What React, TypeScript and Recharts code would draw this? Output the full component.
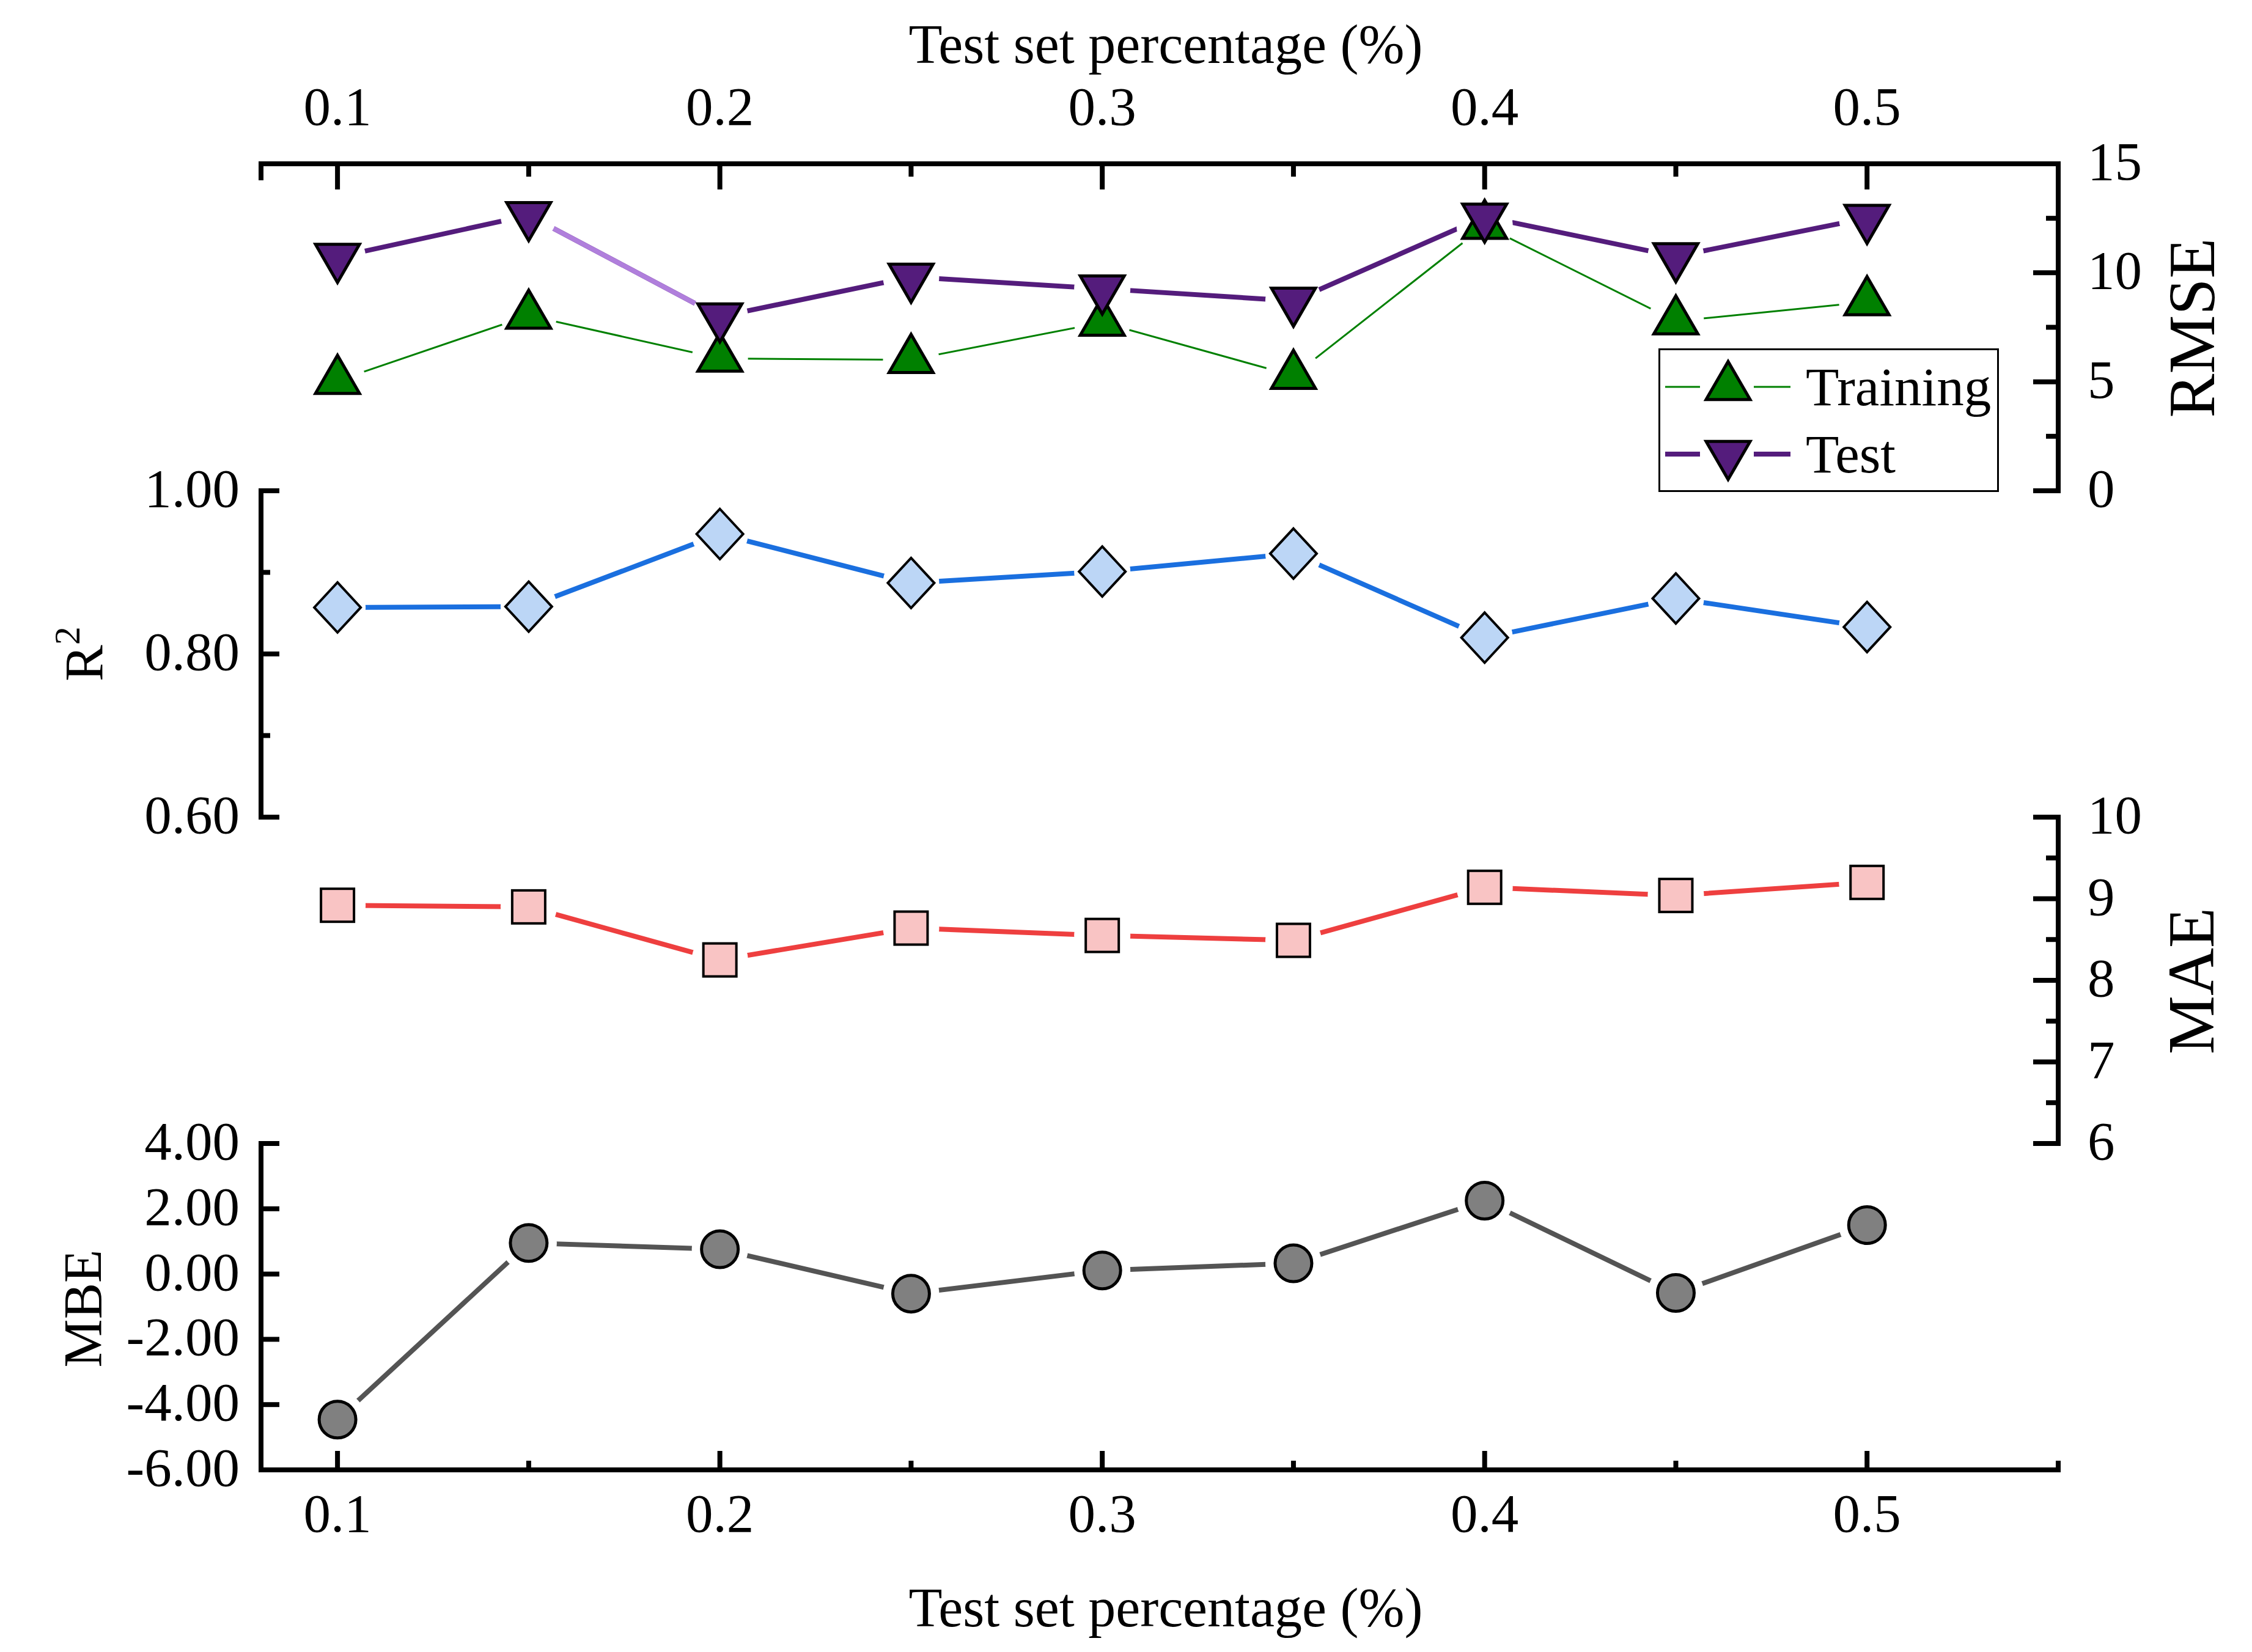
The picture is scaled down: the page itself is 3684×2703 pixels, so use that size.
import React from 'react';
import { LineChart, Line, XAxis, YAxis, Legend } from 'recharts';

// x: test set share, y: one metric per panel
const testPct = [0.1, 0.15, 0.2, 0.25, 0.3, 0.35, 0.4, 0.45, 0.5];
const rmseTraining = [5.05, 8.04, 6.07, 6.01, 7.72, 5.28, 12.16, 7.78, 8.66];
const rmseTest = [10.72, 12.64, 7.99, 9.81, 9.27, 8.71, 12.57, 10.75, 12.51];
const r2Values = [0.857, 0.858, 0.947, 0.887, 0.901, 0.923, 0.82, 0.868, 0.833];
const maeValues = [8.92, 8.9, 8.25, 8.64, 8.55, 8.49, 9.14, 9.04, 9.2];
const mbeValues = [-4.46, 0.95, 0.76, -0.6, 0.11, 0.33, 2.25, -0.58, 1.5];
// the test segment that is drawn in a lighter purple
const lightTestSegment = [1, 2];

const xDomain = [0.08, 0.55];
const xTicks = [0.1, 0.15, 0.2, 0.25, 0.3, 0.35, 0.4, 0.45, 0.5];
const xLabels = [0.1, 0.2, 0.3, 0.4, 0.5];
const rmseTicks = [0, 2.5, 5, 7.5, 10, 12.5, 15];
const rmseLabels = [0, 5, 10, 15];
const r2Ticks = [0.6, 0.7, 0.8, 0.9, 1.0];
const r2Labels = [0.6, 0.8, 1.0];
const maeTicks = [6, 6.5, 7, 7.5, 8, 8.5, 9, 9.5, 10];
const maeLabels = [6, 7, 8, 9, 10];
const mbeTicks = [-6, -4, -2, 0, 2, 4];
const mbeLabels = [-6, -4, -2, 0, 2, 4];

const data = testPct.map((pct, i) => ({
  pct,
  rmseTraining: rmseTraining[i],
  rmseTest: rmseTest[i],
  rmseTestLight: lightTestSegment.includes(i) ? rmseTest[i] : null,
  r2: r2Values[i],
  mae: maeValues[i],
  mbe: mbeValues[i],
}));

const W = 3684;
const H = 2703;
const PLOT_L = 427;
const PLOT_R = 3367;
const BANDS = [268, 803, 1337, 1871, 2405];
const AX = 10; // axis box size
const FONT = "'Liberation Serif', 'Times New Roman', serif";

const PURPLE = '#541c7c';
const axisLine = { stroke: '#000', strokeWidth: 8, strokeLinecap: 'square' as const };

const makeXTick = (side: 'top' | 'bottom') => (props: any) => {
  const { x, y, payload } = props;
  const v = payload.value;
  const edge = v < 0.09 || v > 0.54;
  const major = xLabels.includes(v);
  const dir = side === 'top' ? 1 : -1;
  let len = side === 'top' ? (major ? 42 : 21) : (major ? 31 : 15);
  if (edge) len = side === 'top' ? 27 : 15;
  return (
    <g>
      <line x1={x} x2={x} y1={y} y2={y + dir * len} stroke="#000" strokeWidth={8} />
      {major && (
        <text x={x} y={side === 'top' ? y - 64 : y + 101} textAnchor="middle" fontSize={89} fontFamily={FONT} fill="#000">
          {v.toFixed(1)}
        </text>
      )}
    </g>
  );
};

const makeYTick = (side: 'left' | 'right', labels: number[], digits: number) => (props: any) => {
  const { x, y, payload } = props;
  const v = payload.value;
  const major = labels.includes(v);
  const len = side === 'left' ? (major ? 30 : 15) : (major ? 41 : 20);
  const dir = side === 'left' ? 1 : -1;
  return (
    <g>
      <line x1={x} x2={x + dir * len} y1={y} y2={y} stroke="#000" strokeWidth={8} />
      {major && (
        <text
          x={side === 'left' ? x - 35 : x + 48}
          y={y + 26}
          textAnchor={side === 'left' ? 'end' : 'start'}
          fontSize={89}
          fontFamily={FONT}
          fill="#000"
        >
          {v.toFixed(digits)}
        </text>
      )}
    </g>
  );
};

const triPath = (cx: number, cy: number, s: number, up: boolean) => {
  const h = (s * Math.sqrt(3)) / 2;
  const d = up ? 1 : -1;
  return `M${cx},${cy - (d * 2 * h) / 3} L${cx + s / 2},${cy + (d * h) / 3} L${cx - s / 2},${cy + (d * h) / 3} Z`;
};

const halo = (props: any) => (
  <circle key={`h-${props.index}`} cx={props.cx} cy={props.cy} r={46} fill="#fff" />
);

const upTri = (props: any) => (
  <path key={`u-${props.index}`} d={triPath(props.cx, props.cy, 72, true)} fill="#008000" stroke="#000" strokeWidth={5} />
);
const downTri = (props: any) => (
  <path key={`t-${props.index}`} d={triPath(props.cx, props.cy, 72, false)} fill={PURPLE} stroke="#000" strokeWidth={5} />
);
const diamond = (props: any) => {
  const { cx, cy } = props;
  return (
    <path
      key={`d-${props.index}`}
      d={`M${cx},${cy - 41} L${cx + 38},${cy} L${cx},${cy + 41} L${cx - 38},${cy} Z`}
      fill="#bcd6f6"
      stroke="#000"
      strokeWidth={4}
    />
  );
};
const square = (props: any) => (
  <rect key={`s-${props.index}`} x={props.cx - 27} y={props.cy - 27} width={54} height={54} fill="#f9c4c4" stroke="#000" strokeWidth={4} />
);
const circle = (props: any) => (
  <circle key={`c-${props.index}`} cx={props.cx} cy={props.cy} r={30} fill="#808080" stroke="#000" strokeWidth={5} />
);

const LegendBox = () => {
  const rows = [
    { y: 63, name: 'Training', color: '#008000', width: 3, up: true, fill: '#008000' },
    { y: 173, name: 'Test', color: PURPLE, width: 8, up: false, fill: PURPLE },
  ];
  return (
    <svg width={557} height={235} style={{ display: 'block' }}>
      <rect x={1.5} y={1.5} width={554} height={232} fill="#fff" stroke="#000" strokeWidth={3} />
      {rows.map((r) => (
        <g key={r.name}>
          <line x1={11} x2={68} y1={r.y} y2={r.y} stroke={r.color} strokeWidth={r.width} />
          <line x1={156} x2={216} y1={r.y} y2={r.y} stroke={r.color} strokeWidth={r.width} />
          <path d={triPath(114, r.y, 72, r.up)} fill={r.fill} stroke="#000" strokeWidth={5} />
          <text x={241} y={r.y + 30} fontSize={89} fontFamily={FONT} fill="#000">
            {r.name}
          </text>
        </g>
      ))}
    </svg>
  );
};

const rotatedTitle = (x: number, y: number, size: number, content: React.ReactNode) => (
  <text transform={`rotate(-90 ${x} ${y})`} x={x} y={y} textAnchor="middle" fontSize={size} fontFamily={FONT} fill="#000">
    {content}
  </text>
);

const layer: React.CSSProperties = { position: 'absolute', left: 0, top: 0 };

export default function App() {
  const midX = (PLOT_L + PLOT_R) / 2 + 10;
  return (
    <div style={{ position: 'absolute', left: 0, top: 0, width: W, height: H, background: '#fff', fontFamily: FONT }}>
      {/* RMSE */}
      <div style={layer}>
        <LineChart width={W} height={H} data={data} margin={{ top: BANDS[0] - AX, bottom: H - BANDS[1], left: PLOT_L, right: W - PLOT_R - AX }}>
          <XAxis
            type="number"
            dataKey="pct"
            orientation="top"
            domain={xDomain}
            ticks={[xDomain[0], ...xTicks, xDomain[1]]}
            interval={0}
            height={AX}
            tickSize={0}
            tickMargin={0}
            tickLine={false}
            axisLine={axisLine}
            tick={makeXTick('top')}
            label={() => (
              <text x={midX} y={BANDS[0] - 165} textAnchor="middle" fontSize={90} fontFamily={FONT} fill="#000">
                Test set percentage (%)
              </text>
            )}
          />
          <YAxis
            type="number"
            orientation="right"
            domain={[0, 15]}
            ticks={rmseTicks}
            interval={0}
            width={AX}
            tickSize={0}
            tickMargin={0}
            tickLine={false}
            axisLine={axisLine}
            tick={makeYTick('right', rmseLabels, 0)}
            label={() => rotatedTitle(PLOT_R + 255, (BANDS[0] + BANDS[1]) / 2 + 1, 108, 'RMSE')}
          />
          <Line dataKey="rmseTraining" stroke="#008000" strokeWidth={3} dot={false} activeDot={false} isAnimationActive={false} />
          <Line dataKey="rmseTest" stroke={PURPLE} strokeWidth={8} dot={false} activeDot={false} isAnimationActive={false} />
          <Line dataKey="rmseTestLight" stroke="#b07fdc" strokeWidth={8} dot={false} activeDot={false} isAnimationActive={false} />
          <Line dataKey="rmseTraining" stroke="none" dot={halo} activeDot={false} isAnimationActive={false} />
          <Line dataKey="rmseTest" stroke="none" dot={halo} activeDot={false} isAnimationActive={false} />
          <Line dataKey="rmseTraining" stroke="none" dot={upTri} activeDot={false} isAnimationActive={false} />
          <Line dataKey="rmseTest" stroke="none" dot={downTri} activeDot={false} isAnimationActive={false} />
          <Legend
            layout="vertical"
            align="center"
            verticalAlign="middle"
            content={() => <LegendBox />}
            wrapperStyle={{ left: 2713, top: 570, width: 557, height: 235 }}
          />
        </LineChart>
      </div>

      {/* R2 */}
      <div style={layer}>
        <LineChart width={W} height={H} data={data} margin={{ top: BANDS[1], bottom: H - BANDS[2], left: PLOT_L - AX, right: W - PLOT_R }}>
          <XAxis type="number" dataKey="pct" domain={xDomain} hide />
          <YAxis
            type="number"
            orientation="left"
            domain={[0.6, 1.0]}
            ticks={r2Ticks}
            interval={0}
            width={AX}
            tickSize={0}
            tickMargin={0}
            tickLine={false}
            axisLine={axisLine}
            tick={makeYTick('left', r2Labels, 2)}
            label={() =>
              rotatedTitle(PLOT_L - 260, (BANDS[1] + BANDS[2]) / 2, 89, (
                <>
                  R<tspan dy={-37} fontSize={60}>2</tspan>
                </>
              ))
            }
          />
          <Line dataKey="r2" stroke="#1a6fdf" strokeWidth={8} dot={false} activeDot={false} isAnimationActive={false} />
          <Line dataKey="r2" stroke="none" dot={halo} activeDot={false} isAnimationActive={false} />
          <Line dataKey="r2" stroke="none" dot={diamond} activeDot={false} isAnimationActive={false} />
        </LineChart>
      </div>

      {/* MAE */}
      <div style={layer}>
        <LineChart width={W} height={H} data={data} margin={{ top: BANDS[2], bottom: H - BANDS[3], left: PLOT_L, right: W - PLOT_R - AX }}>
          <XAxis type="number" dataKey="pct" domain={xDomain} hide />
          <YAxis
            type="number"
            orientation="right"
            domain={[6, 10]}
            ticks={maeTicks}
            interval={0}
            width={AX}
            tickSize={0}
            tickMargin={0}
            tickLine={false}
            axisLine={axisLine}
            tick={makeYTick('right', maeLabels, 0)}
            label={() => rotatedTitle(PLOT_R + 254, (BANDS[2] + BANDS[3]) / 2 + 1, 108, 'MAE')}
          />
          <Line dataKey="mae" stroke="#ee3f3f" strokeWidth={8} dot={false} activeDot={false} isAnimationActive={false} />
          <Line dataKey="mae" stroke="none" dot={halo} activeDot={false} isAnimationActive={false} />
          <Line dataKey="mae" stroke="none" dot={square} activeDot={false} isAnimationActive={false} />
        </LineChart>
      </div>

      {/* MBE */}
      <div style={layer}>
        <LineChart width={W} height={H} data={data} margin={{ top: BANDS[3], bottom: H - BANDS[4] - AX, left: PLOT_L - AX, right: W - PLOT_R }}>
          <XAxis
            type="number"
            dataKey="pct"
            orientation="bottom"
            domain={xDomain}
            ticks={[xDomain[0], ...xTicks, xDomain[1]]}
            interval={0}
            height={AX}
            tickSize={0}
            tickMargin={0}
            tickLine={false}
            axisLine={axisLine}
            tick={makeXTick('bottom')}
            label={() => (
              <text x={midX} y={BANDS[4] + 256} textAnchor="middle" fontSize={90} fontFamily={FONT} fill="#000">
                Test set percentage (%)
              </text>
            )}
          />
          <YAxis
            type="number"
            orientation="left"
            domain={[-6, 4]}
            ticks={mbeTicks}
            interval={0}
            width={AX}
            tickSize={0}
            tickMargin={0}
            tickLine={false}
            axisLine={axisLine}
            tick={makeYTick('left', mbeLabels, 2)}
            label={() => rotatedTitle(PLOT_L - 262, (BANDS[3] + BANDS[4]) / 2 + 3, 89, 'MBE')}
          />
          <Line dataKey="mbe" stroke="#545454" strokeWidth={8} dot={false} activeDot={false} isAnimationActive={false} />
          <Line dataKey="mbe" stroke="none" dot={halo} activeDot={false} isAnimationActive={false} />
          <Line dataKey="mbe" stroke="none" dot={circle} activeDot={false} isAnimationActive={false} />
        </LineChart>
      </div>
    </div>
  );
}
